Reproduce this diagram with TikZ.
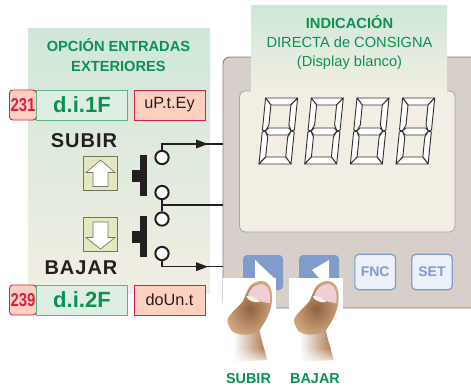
\documentclass[tikz,border=0pt]{standalone}
\usepackage{fontspec}
\usepackage{graphicx}
\setmainfont{Liberation Sans}
\newfontfamily\labfont[LetterSpace=5]{Liberation Sans}
\usetikzlibrary{arrows.meta,fadings}
\definecolor{gtext}{HTML}{0B9150}
\definecolor{gbox}{HTML}{DFEEE2}
\definecolor{gedge}{HTML}{5CB582}
\definecolor{pinkf}{HTML}{FDD0C0}
\definecolor{crim}{HTML}{D81E4A}
\definecolor{blueb}{HTML}{7F9CCB}
\definecolor{bluel}{HTML}{ECF0F8}
\definecolor{devc}{HTML}{D7CFC9}
\definecolor{pane}{HTML}{F2EEE3}
\definecolor{panetop}{HTML}{CFE7D8}
\definecolor{dark}{HTML}{231F20}
\definecolor{arrowbg}{HTML}{E4E8BF}
\definecolor{skin}{HTML}{A9744A}
\definecolor{skinl}{HTML}{E9C7A4}
\definecolor{nailc}{HTML}{EFCFD4}
\tikzset{
 x=0.75pt,y=-0.75pt,
 code/.style={draw=crim,fill=pinkf,line width=0.7pt,rounded corners=2.5pt,minimum width=20.25pt,minimum height=22.5pt,inner sep=0pt,text=crim,font=\bfseries\fontsize{14}{15}\selectfont},
 param/.style={draw=gedge,fill=gbox,line width=0.7pt,minimum width=68.25pt,minimum height=22.5pt,inner sep=0pt,text=gtext,font=\bfseries\fontsize{16.5}{18}\selectfont},
 val/.style={draw=crim,fill=pinkf,line width=0.7pt,minimum width=53.25pt,minimum height=22.5pt,inner sep=0pt,text=dark,font=\fontsize{12.2}{13}\selectfont},
 lab/.style={text=dark,font=\labfont\bfseries\fontsize{15}{16}\selectfont,inner sep=0pt},
 gtitle/.style={text=gtext,align=center,inner sep=0pt},
 contact/.style={circle,draw=dark,line width=1.5pt,fill=white,minimum size=10pt,inner sep=0pt},
 wire/.style={draw=dark,line width=1pt},
 arrowbox/.style={draw=black!50!arrowbg,fill=arrowbg,line width=0.8pt,minimum size=26pt,inner sep=0pt},
 solidbar/.style={fill=dark,draw=none},
 seg/.style={fill=white,draw=black!80,line width=0.7pt,line join=round},
 softkey/.style={draw=blueb,fill=bluel,line width=0.9pt,rounded corners=3pt,minimum width=30.5pt,minimum height=26.5pt,inner sep=0pt,text=blueb,font=\bfseries\fontsize{10.5}{12}\selectfont},
 arrowkey/.style={fill=blueb,rounded corners=3pt},
 bigarrow/.style={fill=white,draw=black!55,line width=0.5pt,line join=miter},
}
\begin{document}
\begin{tikzpicture}
\useasboundingbox (0,0) rectangle (471,387);
% device
\begin{scope}
\clip (0,0) rectangle (471,387);
\draw[fill=devc,draw=black!50,line width=0.7pt,rounded corners=5pt] (223,57) rectangle (480,308);
\end{scope}
\draw[fill=pane,draw=black!35,line width=0.6pt,rounded corners=4pt] (239.5,91) rectangle (455,232);
% top panel
\shade[top color=panetop,bottom color=pane] (251,5) rectangle (447,92);
\node[gtitle,font=\fontsize{11}{14}\selectfont] (ind) at (349.5,42.5) {\textbf{INDICACIÓN}\\DIRECTA de CONSIGNA\\(Display blanco)};
% digits
\foreach \dx in {0,1,2,3}{
\begin{scope}[shift={(259+45.7*\dx,164)},xslant=0.1]
 \draw[seg] (0,-66) -- (32,-66) -- (26,-59) -- (6,-59) -- cycle;
 \draw[seg] (0,-66) -- (6,-59) -- (6,-39) -- (3,-33) -- (0,-34) -- cycle;
 \draw[seg] (32,-66) -- (26,-59) -- (26,-39) -- (29,-33) -- (32,-34) -- cycle;
 \draw[seg] (0,0) -- (6,-7) -- (6,-27) -- (3,-33) -- (0,-32) -- cycle;
 \draw[seg] (32,0) -- (26,-7) -- (26,-27) -- (29,-33) -- (32,-32) -- cycle;
 \draw[seg] (3,-33) -- (6,-36) -- (26,-36) -- (29,-33) -- (26,-29) -- (6,-29) -- cycle;
 \draw[seg] (0,0) -- (32,0) -- (26,-7) -- (6,-7) -- cycle;
\end{scope}}
% left panel
\shade[top color=panetop,bottom color=pane] (28,28) rectangle (210,293);
\node[gtitle,font=\bfseries\fontsize{11}{15.5}\selectfont] (opt) at (118.5,55) {OPCIÓN ENTRADAS\\EXTERIORES};
% parameter rows
\node[code,anchor=west] (c1) at (9,105) {\scalebox{0.8}[1]{231}};
\node[param,anchor=west] (p1) at (36,105) {d.i.1F};
\node[val,anchor=west] (v1) at (133.5,105) {uP.t.Ey};
\node[code,anchor=west] (c2) at (9,300) {\scalebox{0.8}[1]{239}};
\node[param,anchor=west] (p2) at (36,300) {d.i.2F};
\node[val,anchor=west] (v2) at (133.5,300) {doUn.t};
% labels
\node[lab] (sub) at (84,140.7) {SUBIR};
\node[lab] (baj) at (81,267.7) {BAJAR};
% arrow boxes
\node[arrowbox] (bu) at (100.5,173.5) {};
\node[arrowbox] (bd) at (100.5,234.5) {};
\draw[bigarrow] (100.5,160) -- (115,172.5) -- (108,172.5) -- (108,186.5) -- (93,186.5) -- (93,172.5) -- (86,172.5) -- cycle;
\draw[bigarrow] (100.5,249) -- (115,237.5) -- (108,237.5) -- (108,222) -- (93,222) -- (93,237.5) -- (86,237.5) -- cycle;
% push bars
\fill[solidbar] (140,155) rectangle (147,196);
\fill[solidbar] (132,170) rectangle (140,181.5);
\fill[solidbar] (140,216) rectangle (147,257);
\fill[solidbar] (132,230.5) rectangle (140,242.5);
% contacts
\node[contact] (k1) at (162,157.5) {};
\node[contact] (k2) at (162,192.5) {};
\node[contact] (k3) at (162,219) {};
\node[contact] (k4) at (162,253.5) {};
\coordinate (t1) at (223,144);
\coordinate (t2) at (223,205);
\coordinate (t3) at (223,266.7);
\coordinate (e1) at (162,144);
\coordinate (e2) at (162,205);
\coordinate (e3) at (162,266.7);
\draw[wire] (k1.north) -- (e1) -- (t1);
\draw[wire] (k2.south) -- (k3.north);
\draw[wire] (e2) -- (t2);
\draw[wire] (k4.south) -- (e3) -- (t3);
\fill[dark] (196,139.5) -- (208,144) -- (196,148.5) -- cycle;
\fill[dark] (196,262.2) -- (208,266.7) -- (196,271.2) -- cycle;
% keys
\fill[arrowkey] (243,255) rectangle (283,290);
\fill[arrowkey] (299,255) rectangle (339,290);
\fill[white] (255,260) -- (275,279) -- (255,279) -- cycle;
\fill[white] (329,260) -- (312,270) -- (320,279) -- (329,279) -- cycle;
\node[softkey] (fnc) at (375.2,272) {FNC};
\node[softkey] (set) at (432,272) {SET};
% thumbs
\foreach \tx/\wx/\ww in {0/223/53,66.5/289/54}{
 \fill[white] (\wx,278) rectangle (\wx+\ww,366);
 \begin{scope}[shift={(\tx,0)}]
 % lower finger
 \shade[left color=white,middle color=skinl,right color=skin] (233,322) .. controls (234,340) and (235,352) .. (234,362) -- (267,360) .. controls (265,350) and (261,340) .. (259,328) -- cycle;
 \fill[white,path fading=north] (230,348) rectangle (270,365);
 % knuckle
 \shade[inner color=skin!85!black,outer color=skinl!60!skin] (262,281) .. controls (271,282) and (274,293) .. (271,307) .. controls (268,318) and (263,325) .. (259,331) .. controls (250,336) and (238,336) .. (232,331) .. controls (229,327) and (226,321) .. (228,318) .. controls (233,310) and (240,306) .. (243,301) .. controls (246,294) and (248,289) .. (250,286) .. controls (254,282) and (258,281) .. cycle;
 % nail
 \fill[nailc] (262,284) .. controls (268,285) and (271,292) .. (270,303) .. controls (266,303) and (252,300) .. (248,295) .. controls (250,289) and (255,284) .. (262,284) -- cycle;
 \fill[white!80!nailc] (246,296) .. controls (250,295) and (256,298) .. (260,302) .. controls (254,303) and (248,301) .. (246,296) -- cycle;
 \end{scope}
}
\node[text=gtext,font=\bfseries\fontsize{10.8}{12}\selectfont,inner sep=0pt] (ls) at (248.5,378.5) {SUBIR};
\node[text=gtext,font=\bfseries\fontsize{10.8}{12}\selectfont,inner sep=0pt] (lb) at (315,378.5) {BAJAR};
\end{tikzpicture}
\end{document}
